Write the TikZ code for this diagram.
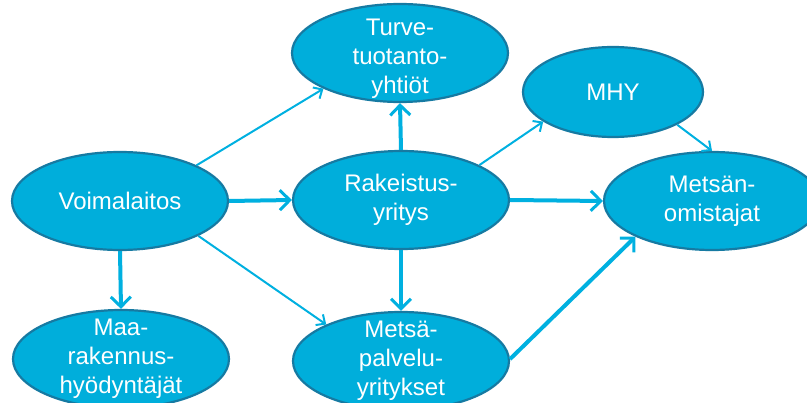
\documentclass[tikz,border=0pt]{standalone}
\usepackage{fontspec}
\setmainfont{Liberation Sans}
\usetikzlibrary{shapes.geometric,arrows.meta}

\definecolor{nodeblue}{RGB}{0,174,219}
\definecolor{edgeblue}{RGB}{22,122,162}
\definecolor{linkblue}{RGB}{0,176,224}

\tikzset{
  actor/.style={ellipse, draw=edgeblue, fill=nodeblue, line width=2.2pt,
    minimum width=216pt, minimum height=98pt, inner sep=-20pt,
    text=white, align=center, font=\fontsize{24}{29}\selectfont},
  thinlink/.style={draw=linkblue, line width=2pt,
    -{Straight Barb[length=7pt,width=13pt,line width=2pt]}},
  thicklink/.style={draw=linkblue, line width=4pt,
    -{Straight Barb[length=10pt,width=20pt,line width=3pt]}}
}

\begin{document}
\begin{tikzpicture}[x=1pt,y=-1pt]
    \useasboundingbox (0,0) rectangle (807,403);
    \begin{scope}
      \clip (0,0) rectangle (807,403);
      \node[actor] (volt) at (120,201) {Voimalaitos};
      \node[actor] (turve) at (400,53) {\rule{0pt}{28pt}Turve-\\tuotanto-\\yhtiöt};
      \node[actor] (rake) at (401,200) {Rakeistus-\\yritys};
      \node[actor, minimum width=180pt, minimum height=90pt] (mhy) at (613,92) {MHY};
      \node[actor] (omist) at (712,201) {Metsän-\\omistajat};
      \node[actor] (maa) at (121,359) {Maa-\\rakennus-\\hyödyntäjät};
      \node[actor] (palvelu) at (401,361) {Metsä-\\palvelu-\\yritykset};
    \end{scope}
    % thin links
    \draw[thinlink] (volt.25) -- (turve.205);
    \draw[thinlink] (volt.-24) -- (palvelu.154);
    \draw[thinlink] (rake.24) -- (mhy.203);
    \draw[thinlink] (mhy.-27) -- (omist.north);
    % thick links
    \draw[thicklink] (volt.east) -- (rake.west);
    \draw[thicklink] (volt.south) -- (maa.north);
    \draw[thicklink] (rake.north) -- (turve.south);
    \draw[thicklink] (rake.south) -- (palvelu.north);
    \draw[thicklink] (rake.east) -- (omist.west);
    \draw[thicklink] (palvelu.1) -- (omist.205);
\end{tikzpicture}
\end{document}
